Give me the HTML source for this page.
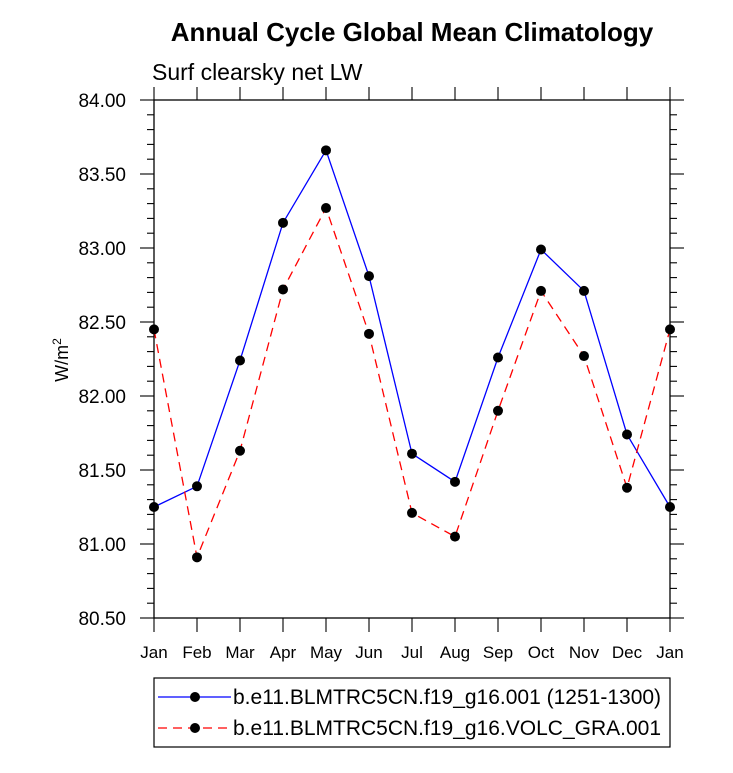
<!DOCTYPE html>
<html><head><meta charset="utf-8"><style>
body{margin:0;background:#fff;}
svg text{font-family:"Liberation Sans",Arial,sans-serif;fill:#000;}
</style></head><body>
<svg id="chart" width="733" height="768" xmlns="http://www.w3.org/2000/svg">
<text x="412" y="41" text-anchor="middle" font-size="26" font-weight="bold">Annual Cycle Global Mean Climatology</text>
<text x="152" y="80" font-size="23">Surf clearsky net LW</text>
<text transform="translate(68,360) rotate(-90)" text-anchor="middle" font-size="18">W/m<tspan font-size="12" dy="-7">2</tspan></text>
<g id="axes"></g>
<g id="series"></g>
<g>
<rect x="154" y="678" width="516" height="69" fill="none" stroke="#000" stroke-width="1.2"/>
<line x1="158" y1="697" x2="231" y2="697" stroke="#0000ff" stroke-width="1.3"/>
<circle cx="195" cy="697" r="5" fill="#000"/>
<text x="233" y="704" font-size="21">b.e11.BLMTRC5CN.f19_g16.001 (1251-1300)</text>
<line x1="158" y1="728" x2="231" y2="728" stroke="#ff0000" stroke-width="1.3" stroke-dasharray="9,6"/>
<circle cx="195" cy="728" r="5" fill="#000"/>
<text x="233" y="735" font-size="21">b.e11.BLMTRC5CN.f19_g16.VOLC_GRA.001</text>
</g>
</svg>
<script>
const months=["Jan","Feb","Mar","Apr","May","Jun","Jul","Aug","Sep","Oct","Nov","Dec","Jan"];
const controlValues=[81.25,81.39,82.24,83.17,83.66,82.81,81.61,81.42,82.26,82.99,82.71,81.74,81.25];
const volcValues=[82.45,80.91,81.63,82.72,83.27,82.42,81.21,81.05,81.90,82.71,82.27,81.38,82.45];
const yTicks=["80.50","81.00","81.50","82.00","82.50","83.00","83.50","84.00"];
const L=154,R=670,T=100,B=618,yMin=80.5,yMax=84;
const NS="http://www.w3.org/2000/svg";
function xs(i){return L+(R-L)*i/(months.length-1);}
function ys(v){return B-(v-yMin)/(yMax-yMin)*(B-T);}
function mk(tag,attrs,parent){const e=document.createElementNS(NS,tag);for(const k in attrs)e.setAttribute(k,attrs[k]);parent.appendChild(e);return e;}
const ax=document.getElementById('axes');
const frame=mk('rect',{x:L,y:T,width:R-L,height:B-T,fill:'none',stroke:'#000','stroke-width':1.3},ax);


months.forEach((m,i)=>{
  const x=xs(i);
  mk('line',{x1:x,y1:B,x2:x,y2:B+14,stroke:'#000','stroke-width':1.1},ax);
  mk('line',{x1:x,y1:T,x2:x,y2:T-13,stroke:'#000','stroke-width':1.1},ax);
  const t=mk('text',{x:x,y:B+40,'text-anchor':'middle','font-size':17},ax);
  t.textContent=m;
  
  
});
for(let v=yMin;v<=yMax+1e-6;v+=0.1){
  const y=ys(v);const major=Math.abs(v*2-Math.round(v*2))<1e-6;const len=major?14:7;
  mk('line',{x1:L-len,y1:y,x2:L,y2:y,stroke:'#000','stroke-width':1.1},ax);
  mk('line',{x1:R,y1:y,x2:R+len,y2:y,stroke:'#000','stroke-width':1.1},ax);
}
yTicks.forEach(s=>{
  const t=mk('text',{x:L-28,y:ys(parseFloat(s))+7,'text-anchor':'end','font-size':19},ax);
  t.textContent=s;
  
  
});
const sg=document.getElementById('series');
function drawSeries(vals,color,dash,name){
  const p=mk('polyline',{points:vals.map((v,i)=>xs(i)+','+ys(v)).join(' '),fill:'none',stroke:color,'stroke-width':1.3,'stroke-dasharray':dash},sg);
  
  
  vals.forEach((v,i)=>{
    const c=mk('circle',{cx:xs(i),cy:ys(v),r:5,fill:'#000'},sg);
    
    
  });
}
drawSeries(controlValues,'#0000ff','none','control');
drawSeries(volcValues,'#ff0000','9,6','volc');
</script>
</body></html>
